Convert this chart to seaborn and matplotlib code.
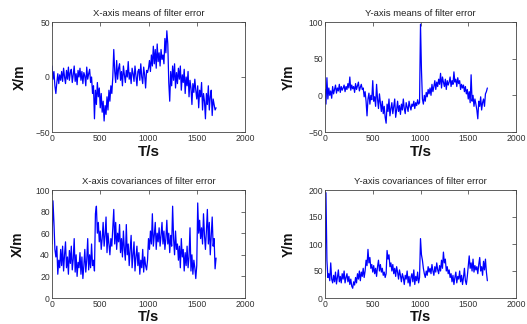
import numpy as np
import pandas as pd
import matplotlib
matplotlib.use("Agg")
import matplotlib.pyplot as plt
import seaborn as sns

# sample times (s)
t_step = 10
t_end = 1700

# X-axis means of filter error (X/m)
x_mean = [
    10, -2, 5, -8, -15, -5, 3, -6, 2, -3,
    5, -4, 8, 0, -6, 6, -2, 9, -3, 4,
    7, -5, 2, 10, -4, 3, -7, 6, 0, 8,
    -3, 5, -6, 4, 1, -8, 9, -2, 3, 7,
    -5, 0, -15, -8, -38, -12, -25, -5, -18, -10,
    -28, -15, -32, -22, -40, -26, -34, -18, -30, -12,
    -22, -8, -15, 0, 25, 5, -5, 15, -2, 8,
    12, -3, 5, -8, 10, 2, -5, 6, 0, 14,
    -2, 4, -6, 8, 3, -4, 10, 1, -8, 5,
    7, -3, 12, 0, -6, 9, 2, -10, 6, 4,
    8, 15, 5, 20, 10, 28, 12, 25, 8, 30,
    14, 22, 10, 25, 16, 20, 12, 35, 22, 42,
    30, -5, -22, 5, -8, 10, -3, 12, -10, 4,
    -6, 8, -2, 10, -12, 2, -5, 7, -15, 0,
    -8, 5, -18, -3, -10, -25, -6, -14, -2, -12,
    -20, -8, -28, -12, -18, -5, -30, -15, -22, -38,
    -15, -25, -8, -30, -18, -12, -35, -20, -25, -30,
    -28,
]

# Y-axis means of filter error (Y/m)
y_mean = [
    8, -12, 24, -5, 10, 0, 6, -4, 12, 2,
    8, 14, 3, 10, 6, 15, 4, 12, 7, 10,
    14, 5, 12, 8, 16, 10, 25, 7, 14, 9,
    12, 4, 16, 8, 13, 18, 6, 11, 15, 8,
    10, -2, 5, -8, -28, -5, 3, -12, 0, -6,
    20, -8, -2, -15, 15, -5, -18, 2, -10, -22,
    -8, -25, -15, -30, -38, -12, -22, -5, -28, -18,
    -10, -25, -15, -5, -30, -20, -8, -22, -14, -26,
    -12, -20, -5, -18, -25, -10, -16, -22, -8, -15,
    -20, -12, -15, -8, -18, -10, -14, -6, -12, -10,
    97, 35, -5, -12, 0, -8, 4, -2, 8, 2,
    10, 0, 15, 5, 12, 20, 8, 18, 12, 22,
    15, 30, 10, 25, 18, 12, 22, 8, 20, 14,
    18, 25, 12, 20, 15, 32, 18, 22, 12, 24,
    16, 20, 8, 15, 10, 14, 5, 12, 2, 8,
    -5, 5, -10, 28, -8, 0, -15, -5, -12, -20,
    -32, -8, -15, -2, -20, -10, -5, -15, 2, 5,
    10,
]

# X-axis covariances of filter error (X/m)
x_cov = [
    50, 90, 70, 45, 38, 48, 22, 35, 28, 45,
    30, 48, 25, 40, 52, 28, 38, 22, 44, 32,
    48, 26, 36, 55, 24, 40, 20, 33, 28, 42,
    22, 38, 18, 30, 45, 24, 35, 55, 26, 40,
    28, 50, 30, 35, 25, 78, 85, 60, 70, 52,
    62, 45, 55, 70, 48, 58, 75, 42, 60, 50,
    40, 55, 48, 65, 82, 50, 70, 45, 60, 52,
    68, 42, 55, 38, 62, 45, 35, 68, 40, 50,
    30, 45, 58, 28, 40, 52, 25, 38, 48, 30,
    42, 22, 35, 28, 45, 24, 38, 30, 26, 35,
    55, 45, 62, 50, 78, 48, 58, 70, 45, 60,
    52, 65, 48, 58, 70, 50, 62, 45, 55, 72,
    50, 60, 42, 58, 48, 85, 55, 40, 62, 45,
    50, 35, 48, 28, 55, 38, 45, 25, 42, 30,
    48, 28, 38, 65, 25, 40, 22, 35, 28, 18,
    30, 88, 60, 72, 55, 65, 50, 78, 58, 45,
    62, 82, 50, 70, 40, 58, 75, 48, 55, 27,
    37,
]

# Y-axis covariances of filter error (Y/m)
y_cov = [
    40, 195, 70, 38, 45, 32, 65, 35, 28, 42,
    30, 48, 26, 38, 52, 30, 40, 28, 45, 35,
    50, 28, 38, 45, 30, 40, 25, 35, 22, 18,
    30, 24, 38, 28, 45, 35, 50, 32, 48, 40,
    55, 38, 50, 70, 60, 90, 65, 75, 55, 62,
    48, 60, 45, 55, 40, 58, 70, 50, 62, 48,
    55, 42, 48, 38, 45, 88, 72, 80, 58, 65,
    50, 62, 45, 55, 40, 58, 48, 35, 52, 42,
    30, 45, 38, 25, 42, 35, 50, 28, 40, 22,
    38, 45, 30, 52, 25, 40, 32, 48, 28, 38,
    110, 80, 70, 55, 45, 38, 50, 42, 58, 48,
    55, 45, 62, 50, 42, 58, 48, 65, 52, 45,
    60, 50, 70, 55, 85, 65, 72, 50, 58, 45,
    52, 38, 45, 30, 42, 25, 38, 48, 28, 40,
    35, 50, 30, 42, 25, 38, 55, 32, 25, 40,
    60, 78, 55, 65, 50, 72, 48, 60, 52, 58,
    45, 62, 75, 50, 58, 42, 68, 52, 72, 48,
    32,
]

titles = ["X-axis means of filter error", "Y-axis means of filter error",
          "X-axis covariances of filter error", "Y-axis covariances of filter error"]
ylabels = ["X/m", "Y/m", "X/m", "Y/m"]
xlabel = "T/s"
x_ticks = [0, 500, 1000, 1500, 2000]
y_ticks_list = [[-50, 0, 50], [-50, 0, 50, 100],
                [0, 20, 40, 60, 80, 100], [0, 50, 100, 150, 200]]

sns.set_style("white")
plt.rcParams["font.family"] = ["Liberation Sans", "DejaVu Sans"]

t = np.arange(0, t_end + 1, t_step)
series = [x_mean, y_mean, x_cov, y_cov]

fig = plt.figure(figsize=(5.27, 3.24), dpi=100)
W, H = 527.0, 324.0
# pixel boxes: left, top, right, bottom
boxes = [(52, 22, 245, 132), (325, 22, 516, 132),
         (52, 190, 245, 298), (325, 190, 516, 298)]
ylab_x = [20, 289, 18, 289]
xlab_y = [152, 152, 317, 317]
xlab_size = [11, 11, 10.5, 10.5]

for i in range(4):
    l, tp, r, b = boxes[i]
    ax = fig.add_axes([l / W, 1 - b / H, (r - l) / W, (b - tp) / H])
    df = pd.DataFrame({"t": t, "v": series[i]})
    sns.lineplot(data=df, x="t", y="v", ax=ax, color=(0, 0, 1), linewidth=0.9)
    ax.set_xlim(0, 2000)
    yt = y_ticks_list[i]
    ax.set_ylim(yt[0], yt[-1])
    ax.set_xticks(x_ticks)
    ax.set_yticks(yt)
    ax.tick_params(direction="in", length=3, width=0.5, top=True, right=True,
                   labelsize=6.2, colors="#333333", pad=1.5)
    for s in ax.spines.values():
        s.set_color("#444444")
        s.set_linewidth(0.6)
    ax.set_title(titles[i], fontsize=6.8, color="#222222", pad=4)
    ax.set_xlabel(xlabel, fontsize=xlab_size[i], fontweight="bold", color="#111111")
    ax.set_ylabel(ylabels[i], fontsize=10, fontweight="bold", color="#111111")
    ax.xaxis.label.set_va("center")
    ax.yaxis.label.set_va("center")
    ax.xaxis.set_label_coords(0.5, (b - xlab_y[i]) / (b - tp))
    ax.yaxis.set_label_coords((ylab_x[i] - l) / (r - l), 0.5)

fig.savefig("out.png", dpi=100)
